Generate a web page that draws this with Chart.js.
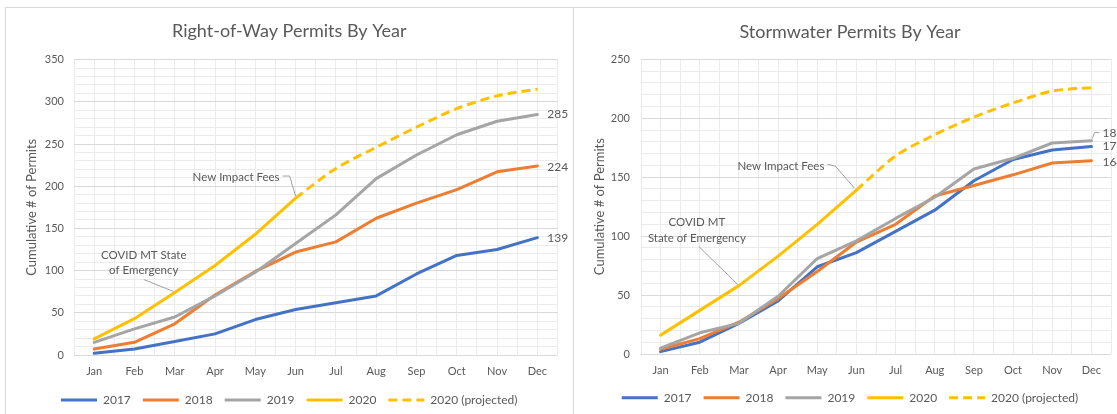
<!DOCTYPE html>
<html>
<head>
<meta charset="utf-8">
<title>Permits By Year</title>
<script src="https://cdn.jsdelivr.net/npm/chart.js@4.4.1/dist/chart.umd.min.js"></script>
<style>
  html, body { margin: 0; padding: 0; background: #fff; overflow: hidden; width: 1117px; height: 414px; }
  .panel { position: absolute; top: 7px; height: 430px; background: #fff;
           border-left: 1px solid #d9d9d9; border-top: 1px solid #d9d9d9; }
  #p1 { left: 5px; width: 640px; }
  #p2 { left: 573px; width: 600px; }
  .panel canvas { position: absolute; left: -1px; top: 0; }
  #c2 { filter: blur(0.4px); }
</style>
</head>
<body>
<div class="panel" id="p1"><canvas id="c1" width="570" height="408"></canvas></div>
<div class="panel" id="p2"><canvas id="c2" width="556" height="408"></canvas></div>

<script>
// ---- shared categories ----
const MONTHS = ['Jan', 'Feb', 'Mar', 'Apr', 'May', 'Jun', 'Jul', 'Aug', 'Sep', 'Oct', 'Nov', 'Dec'];
const SERIES_NAMES = ['2017', '2018', '2019', '2020', '2020 (projected)'];

// ---- Right-of-Way permits (cumulative) ----
const ROW_2017 = [2, 7, 16, 25, 42, 54, 62, 70, 96, 118, 125, 139];
const ROW_2018 = [7, 15, 37, 71, 99, 122, 134, 162, 180, 196, 217, 224];
const ROW_2019 = [15, 31, 45, 70, 98, 132, 166, 209, 237, 261, 277, 285];
const ROW_2020 = [19, 43, 74, 106, 143, 186];
const ROW_2020_PROJ = [null, null, null, null, null, 186, 221, 246, 270, 292, 307, 315];
const ROW_Y_MAX = 350;

// ---- Stormwater permits (cumulative) ----
const SW_2017 = [2, 10, 26, 45, 74, 86, 104, 122, 147, 165, 173, 176];
const SW_2018 = [4, 13, 27, 47, 70, 95, 110, 134, 143, 152, 162, 164];
const SW_2019 = [5, 18, 26, 49, 81, 96, 115, 133, 157, 166, 179, 181];
const SW_2020 = [16, 37, 58, 83, 110, 139];
const SW_2020_PROJ = [null, null, null, null, null, 139, 168, 186, 201, 213, 223, 226];
const SW_Y_MAX = 250;

// ---- axis tick spacing ----
const Y_MAJOR_STEP = 50;
const Y_MINOR_STEP = 10;

// ---- styling ----
const FONT = 'Lato, "Liberation Sans", sans-serif';
const TEXT = '#595959';
const GRID_MAJOR = '#d9d9d9';
const GRID_MINOR = '#ebebeb';
const LEADER = '#a0a0a0';
const COLORS = ['#4472c4', '#ed7d31', '#a5a5a5', '#ffc000', '#ffc000'];
const DASH = [9, 5];

function toPoints(values) {
  return values.map((y, x) => ({ x, y }));
}

function buildDatasets(seriesList) {
  return seriesList.map((values, i) => ({
    label: SERIES_NAMES[i],
    data: toPoints(values),
    borderColor: COLORS[i],
    backgroundColor: COLORS[i],
    borderWidth: 3,
    borderDash: i === 4 ? DASH : [],
    borderCapStyle: i === 4 ? 'butt' : 'round',
    borderJoinStyle: 'round',
    tension: i === 4 ? 0.3 : 0,
    pointRadius: 0,
    pointHoverRadius: 0,
    spanGaps: false,
    // later series sit on top of earlier ones
    order: seriesList.length - i
  }));
}

// Value labels at the end of a series, optional leader when nudged away
const endLabels = {
  id: 'endLabels',
  afterDatasetsDraw(chart, args, opts) {
    const ctx = chart.ctx;
    ctx.save();
    ctx.font = '12px ' + FONT;
    ctx.fillStyle = TEXT;
    ctx.textBaseline = 'middle';
    ctx.textAlign = 'left';
    (opts.items || []).forEach(it => {
      const ds = chart.data.datasets[it.dataset];
      const last = ds.data.length - 1;
      const pt = chart.getDatasetMeta(it.dataset).data[last];
      const lx = pt.x + opts.gap;
      const ly = pt.y + (it.dy || 0);
      if (it.leader) {
        ctx.strokeStyle = LEADER;
        ctx.lineWidth = 1;
        ctx.beginPath();
        ctx.moveTo(pt.x + 1, pt.y - 2);
        ctx.lineTo(pt.x + 3, ly);
        ctx.lineTo(lx - 3, ly);
        ctx.stroke();
      }
      ctx.fillText(String(ds.data[last].y), lx, ly);
    });
    ctx.restore();
  }
};

// Text callouts tied to a point of a series
const callouts = {
  id: 'callouts',
  beforeDatasetsDraw(chart, args, opts) {
    const ctx = chart.ctx;
    ctx.save();
    (opts.items || []).forEach(c => {
      const pt = chart.getDatasetMeta(c.dataset).data[c.index];
      ctx.strokeStyle = LEADER;
      ctx.lineWidth = 1;
      ctx.beginPath();
      c.leader.forEach(([dx, dy], i) => {
        if (i === 0) ctx.moveTo(pt.x + dx, pt.y + dy);
        else ctx.lineTo(pt.x + dx, pt.y + dy);
      });
      ctx.stroke();
      ctx.font = '11.5px ' + FONT;
      ctx.fillStyle = TEXT;
      ctx.textBaseline = 'middle';
      ctx.textAlign = c.align;
      c.lines.forEach((s, i) => ctx.fillText(s, pt.x + c.dx, pt.y + c.dy + i * c.lineHeight));
    });
    ctx.restore();
  }
};

function makeChart(canvasId, cfg) {
  return new Chart(document.getElementById(canvasId), {
    type: 'line',
    data: { datasets: buildDatasets(cfg.series) },
    plugins: [callouts, endLabels],
    options: {
      responsive: false,
      animation: false,
      devicePixelRatio: 1,
      events: [],
      layout: { padding: { left: 16, right: cfg.padRight, top: 0, bottom: cfg.padBottom } },
      plugins: {
        tooltip: { enabled: false },
        title: {
          display: true,
          text: cfg.title,
          color: TEXT,
          font: { family: FONT, size: 18, weight: 'normal' },
          padding: { top: cfg.titleTop, bottom: cfg.titleBottom }
        },
        legend: {
          position: 'bottom',
          labels: {
            usePointStyle: true,
            pointStyle: 'line',
            pointStyleWidth: 36,
            padding: 12,
            color: TEXT,
            font: { family: FONT, size: 12 },
            sort: (a, b) => a.datasetIndex - b.datasetIndex,
            generateLabels(chart) {
              const items = Chart.defaults.plugins.legend.labels.generateLabels(chart);
              items.forEach(item => {
                const ds = chart.data.datasets[item.datasetIndex];
                item.pointStyle = 'line';
                item.lineWidth = ds.borderWidth;
                item.lineDash = ds.borderDash;
                item.lineCap = 'butt';
                item.strokeStyle = ds.borderColor;
                item.fillStyle = ds.borderColor;
              });
              return items;
            }
          }
        },
        endLabels: cfg.endLabels,
        callouts: cfg.callouts
      },
      scales: {
        x: {
          type: 'linear',
          min: -0.5,
          max: MONTHS.length - 0.5,
          afterFit: s => { s.height = cfg.xAxisHeight; },
          border: { display: false },
          grid: { color: GRID_MINOR, lineWidth: 1, drawTicks: false },
          ticks: {
            stepSize: 0.5,
            autoSkip: false,
            maxTicksLimit: 100,
            maxRotation: 0,
            minRotation: 0,
            padding: 10,
            color: TEXT,
            font: { family: FONT, size: 11 },
            callback: v => (Number.isInteger(v) ? MONTHS[v] : '')
          }
        },
        y: {
          min: 0,
          max: cfg.yMax,
          afterFit: s => { s.width = cfg.yAxisWidth; },
          border: { display: false },
          grid: {
            color: c => (c.tick && c.tick.value % Y_MAJOR_STEP === 0 ? GRID_MAJOR : GRID_MINOR),
            lineWidth: 1,
            drawTicks: false
          },
          ticks: {
            stepSize: Y_MINOR_STEP,
            autoSkip: false,
            maxTicksLimit: 100,
            padding: cfg.yTickPad,
            color: TEXT,
            font: { family: FONT, size: 11 },
            callback: v => (v % Y_MAJOR_STEP === 0 ? v : '')
          },
          title: {
            display: true,
            text: 'Cumulative # of Permits',
            color: TEXT,
            font: { family: FONT, size: 13 },
            padding: { top: 3, bottom: 4 }
          }
        }
      }
    }
  });
}

makeChart('c1', {
  title: 'Right-of-Way Permits By Year',
  series: [ROW_2017, ROW_2018, ROW_2019, ROW_2020, ROW_2020_PROJ],
  yMax: ROW_Y_MAX,
  padRight: 17.5,
  padBottom: 0,
  titleTop: 12.2,
  titleBottom: 17.8,
  xAxisHeight: 27,
  yAxisWidth: 53,
  yTickPad: 10,
  endLabels: { gap: 10, items: [{ dataset: 0 }, { dataset: 1, dy: 1 }, { dataset: 2 }] },
  callouts: {
    items: [
      { dataset: 3, index: 5, lines: ['New Impact Fees'], align: 'right', dx: -16, dy: -21, lineHeight: 14,
        leader: [[-13, -22], [-6, -22], [0, -2]] },
      { dataset: 3, index: 2, lines: ['COVID MT State', 'of Emergency'], align: 'center', dx: -31, dy: -37, lineHeight: 15,
        leader: [[-31, -13], [-1, -1]] }
    ]
  }
});

makeChart('c2', {
  title: 'Stormwater Permits By Year',
  series: [SW_2017, SW_2018, SW_2019, SW_2020, SW_2020_PROJ],
  yMax: SW_Y_MAX,
  padRight: 18,
  padBottom: 2.3,
  titleTop: 12.9,
  titleBottom: 16.8,
  xAxisHeight: 25.7,
  yAxisWidth: 52,
  yTickPad: 11,
  endLabels: { gap: 11, items: [{ dataset: 0 }, { dataset: 1, dy: 1 }, { dataset: 2, dy: -8, leader: true }] },
  callouts: {
    items: [
      { dataset: 3, index: 5, lines: ['New Impact Fees'], align: 'right', dx: -32, dy: -24, lineHeight: 14,
        leader: [[-29, -26], [-21, -24], [-2, -2]] },
      { dataset: 3, index: 2, lines: ['COVID MT', 'State of Emergency'], align: 'center', dx: -42, dy: -63, lineHeight: 16,
        leader: [[-40, -39], [-1, -1]] }
    ]
  }
});
</script>
</body>
</html>
